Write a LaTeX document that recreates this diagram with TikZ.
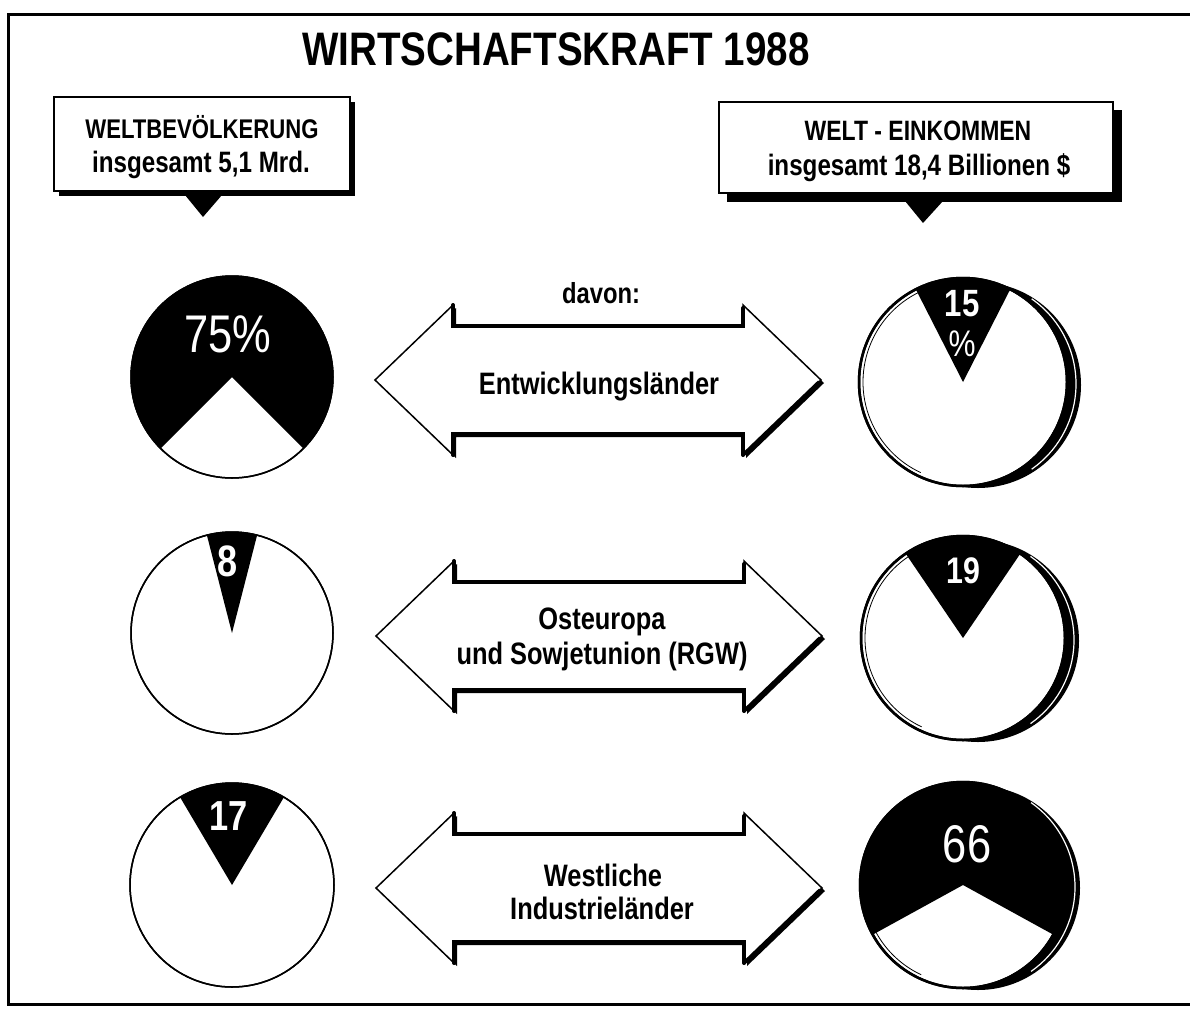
\documentclass[tikz,border=0pt]{standalone}
\usepackage{fontspec}
\newfontfamily\cf{Liberation Sans}[FakeStretch=0.82]
\newcommand\fs[1]{\fontsize{#1}{#1}\selectfont}
\tikzset{
  lbl/.style={anchor=base, inner sep=0pt, font=\cf\bfseries},
  piel/.style={inner sep=0pt, text=white, font=\cf\bfseries},
}
% double arrow centred at (#1,#2)
\newcommand\dblarr[2]{%
  \begin{scope}[shift={(#1,#2)}]
    \fill[black] (-220,3) -- (-142,-72) -- (-142,-51) -- (148,-51) -- (148,-72) -- (226,3) -- (148,78) -- (148,57) -- (-142,57) -- (-142,78) -- cycle;
    \draw[fill=white, line width=1.5] (-223,0) -- (-145,-75) -- (-145,-54) -- (145,-54) -- (145,-75) -- (223,0) -- (145,75) -- (145,54) -- (-145,54) -- (-145,75) -- cycle;
    \draw[line width=4, line cap=round] (-145,-75) -- (-145,-54) -- (145,-54) -- (145,-72);
    \draw[line width=4, line cap=round] (-145,75) -- (-145,54) -- (145,54) -- (145,75);
    \draw[line width=3.5, line cap=round] (145,75) -- (221,2);
  \end{scope}}
% left pie: centre, radius, black wedge from visual angle a to b
\newcommand\lpie[5]{%
  \draw[fill=white, line width=1.5] (#1,#2) circle[radius=#3];
  \fill[black] (#1,#2) -- ++(-#4:#3) arc[start angle=-#4, end angle=-#5, radius=#3] -- cycle;
  \draw[line width=1.5] (#1,#2) circle[radius=#3];}
% right pie with coin rim
\newcommand\rpie[5]{%
  \fill[black] ($(#1,#2)+(15,3)$) circle[radius=#3-1];
  \draw[fill=white, line width=2.5] (#1,#2) circle[radius=#3];
  \fill[black] (#1,#2) -- ++(-#4:#3) arc[start angle=-#4, end angle=-#5, radius=#3] -- cycle;
  \draw[line width=2.5] (#1,#2) circle[radius=#3];
  \draw[white, line width=1.2] ($(#1,#2)+(9,2)$) ++(-55:#3) arc[start angle=-55, end angle=55, radius=#3];
  \draw[line width=0.8] (#1,#2) ++(-115:#3-4) arc[start angle=-115, end angle=-245, radius=#3-4];}
\usetikzlibrary{calc}
\begin{document}
\begin{tikzpicture}[x=1pt, y=-1pt, line join=miter]
\useasboundingbox (0,0) rectangle (1190,1012);
\fill[white] (0,0) rectangle (1190,1012);
% frame
\draw[line width=3] (1190,14) -- (8,14) -- (8,1004) -- (1190,1004);
% title
\node[lbl] (title) at (556,65) {\fs{47}WIRTSCHAFTSKRAFT 1988};
% left box
\fill[black] (59,102) rectangle (355,196);
\draw[fill=white, line width=2] (54,97) rectangle (350,191);
\fill[black] (185,195) -- (222,195) -- (203,217) -- cycle;
\node[lbl] (lb1) at (202,138) {\fs{27}WELTBEVÖLKERUNG};
\node[lbl] (lb2) at (201,172) {\fs{29.5}insgesamt 5,1 Mrd.};
% right box
\fill[black] (727,110) rectangle (1122,202);
\draw[fill=white, line width=2] (719,102) rectangle (1113,193);
\fill[black] (905,201) -- (943,201) -- (923,223) -- cycle;
\node[lbl] (rb1) at (918,140) {\fs{28}WELT - EINKOMMEN};
\node[lbl] (rb2) at (919,175) {\fs{29.5}insgesamt 18,4 Billionen \$};
% davon
\node[lbl] (davon) at (601,303) {\fs{29}davon:};
% arrows
\dblarr{598}{380}
\dblarr{599}{636}
\dblarr{599}{888}
\node[lbl] (a1) at (599,394) {\fs{31}Entwicklungsländer};
\node[lbl] (a2a) at (602,629) {\fs{31}Osteuropa};
\node[lbl] (a2b) at (602,664) {\fs{31}und Sowjetunion (RGW)};
\node[lbl] (a3a) at (603,886) {\fs{31}Westliche};
\node[lbl] (a3b) at (602,919) {\fs{31}Industrieländer};
% left pies
\lpie{232}{377}{101}{315}{585}
\lpie{232}{633}{101}{75.6}{104.4}
\lpie{232}{885}{102}{59.4}{120.6}
% right pies
\rpie{963}{382}{104}{63}{117}
\rpie{963}{638}{102}{55.8}{124.2}
\rpie{963}{885}{103}{331.2}{568.8}
% pie labels
\node[piel, font=\cf] (p75) at (228,334) {\fs{53}75\%};
\node[piel] (p8) at (228,561) {\fs{44}8};
\node[piel] (p17) at (229,816) {\fs{42}17};
\node[piel] (p15) at (962,304) {\fs{38}15};
\node[piel, font=\cf] (p15b) at (962,344) {\fs{37}\%};
\node[piel] (p19) at (963,571) {\fs{37}19};
\node[piel, font=\cf] (p66) at (967,844) {\fs{53}66};
\end{tikzpicture}
\end{document}
